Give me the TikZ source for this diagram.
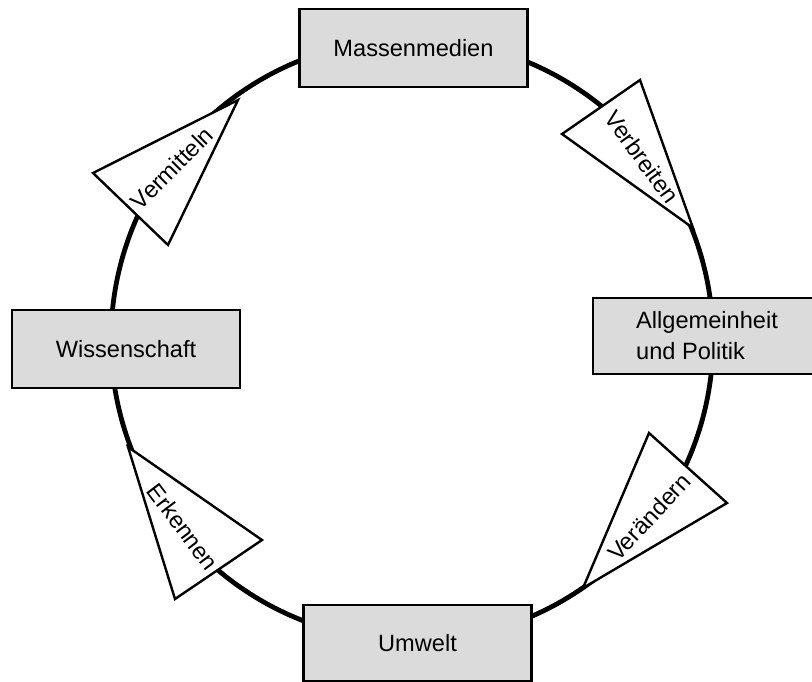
\documentclass[tikz,border=0pt]{standalone}
\usepackage{fontspec}
\setmainfont{Liberation Sans}

\tikzset{
  station/.style={rectangle, draw, line width=2.6pt, fill=black!14,
    minimum width=228pt, minimum height=78pt, inner sep=0pt,
    align=left, font=\fontsize{23.6}{31}\selectfont},
  pointer/.style={draw, line width=2.4pt, fill=white, line join=miter},
  plabel/.style={inner sep=0pt, font=\fontsize{23.6}{28}\selectfont}
}

\begin{document}
\begin{tikzpicture}[x=1pt, y=-1pt]
%    \draw [help lines, opacity=0.5] (0,0) grid [step=50] (812,681);
    \useasboundingbox (0,0) rectangle (812,681);

    %% the ring
    \draw [line width=4.8pt] (412,340) circle [radius=301pt];

    %% the four pointers, tip on the ring
    \draw [pointer] (238,100) -- (93,173) -- (168,245) -- cycle;
    \draw [pointer] (693,228) -- (562,134) -- (640,80) -- cycle;
    \draw [pointer] (583,588) -- (649,433) -- (727,503) -- cycle;
    \draw [pointer] (128,447) -- (262,540) -- (175,599) -- cycle;

    \node (vermitteln) [plabel, rotate=45] at (172,168) {Vermitteln};
    \node (verbreiten) [plabel, rotate=-54] at (642,157) {Verbreiten};
    \node (veraendern) [plabel, rotate=47] at (649,517) {Verändern};
    \node (erkennen) [plabel, rotate=-53] at (183,527) {Erkennen};

    %% the four boxes sit on the ring
    \node (medien) [station] at (413.5,48) {Massenmedien};
    \node (wissen) [station] at (126,349) {Wissenschaft};
    \node (allgem) [station, minimum height=76pt] at (707,336) {Allgemeinheit\\und Politik};
    \node (umwelt) [station, minimum height=76pt] at (417.5,643) {Umwelt};

  \end{tikzpicture}
\end{document}
